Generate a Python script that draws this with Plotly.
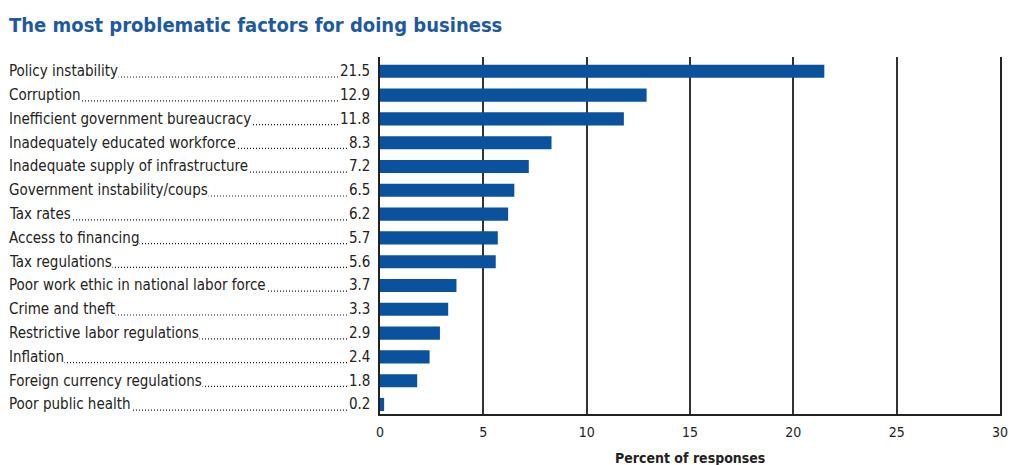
import plotly.graph_objects as go

categories = [
    "Policy instability", "Corruption", "Inefficient government bureaucracy",
    "Inadequately educated workforce", "Inadequate supply of infrastructure",
    "Government instability/coups", "Tax rates", "Access to financing",
    "Tax regulations", "Poor work ethic in national labor force",
    "Crime and theft", "Restrictive labor regulations", "Inflation",
    "Foreign currency regulations", "Poor public health",
]
values = [21.5, 12.9, 11.8, 8.3, 7.2, 6.5, 6.2, 5.7, 5.6, 3.7, 3.3, 2.9, 2.4, 1.8, 0.2]
x_ticks = [0, 5, 10, 15, 20, 25, 30]

FONT = "DejaVu Sans Condensed, Liberation Sans Narrow, sans-serif"
BAR = "#0a519e"
TXT = "#222222"

W, H = 1009, 465
ML, MR, MT, MB = 380, 9, 57, 51
pw = W - ML - MR

def px_to_paper(px):
    return (px - ML) / pw

fig = go.Figure(go.Bar(
    y=categories, x=values, orientation="h",
    marker=dict(color=BAR, line=dict(width=0)),
    width=0.55, hoverinfo="skip",
))

shapes = []
annotations = []
for i, (c, v) in enumerate(zip(categories, values)):
    shapes.append(dict(type="line", xref="paper", yref="y",
                       x0=px_to_paper(10), x1=px_to_paper(368), y0=i + 0.24, y1=i + 0.24,
                       line=dict(color="#1a1a1a", width=1.2, dash="1px,2px"),
                       layer="above"))
    annotations.append(dict(xref="paper", yref="y", x=px_to_paper(8), y=c,
                            text=c, showarrow=False, xanchor="left", yanchor="middle",
                            bgcolor="white", borderpad=0,
                            font=dict(family=FONT, size=15, color=TXT)))
    annotations.append(dict(xref="paper", yref="y", x=px_to_paper(371), y=c,
                            text=f"{v:.1f}", showarrow=False, xanchor="right", yanchor="middle",
                            bgcolor="white", borderpad=0,
                            font=dict(family=FONT, size=15, color=TXT)))

annotations.append(dict(xref="paper", yref="paper", x=0.5, y=0, yshift=-44,
                        text="<b>Percent of responses</b>", showarrow=False,
                        xanchor="center", yanchor="middle",
                        font=dict(family=FONT, size=14, color=TXT)))
annotations.append(dict(xref="paper", yref="paper", x=px_to_paper(7), y=1, yshift=32,
                        text="<b>The most problematic factors for doing business</b>",
                        showarrow=False, xanchor="left", yanchor="middle",
                        font=dict(family=FONT, size=20, color="#1d5aa2")))

fig.update_layout(
    width=W, height=H,
    margin=dict(l=ML, r=MR, t=MT, b=MB, pad=0, autoexpand=False),
    plot_bgcolor="white", paper_bgcolor="white",
    showlegend=False,
    shapes=shapes, annotations=annotations,
    xaxis=dict(range=[0, 30], tickvals=x_ticks, ticktext=[str(t) for t in x_ticks],
               showgrid=True, gridcolor="#333333", gridwidth=1.5,
               showline=True, linecolor="#222222", linewidth=2,
               ticks="", zeroline=False, ticklabeloverflow="allow", automargin=False,
               tickfont=dict(family=FONT, size=14, color=TXT), ticklabelstandoff=4),
    yaxis=dict(categoryorder="array", categoryarray=categories,
               range=[14.4, -0.6], showticklabels=False, showgrid=False,
               showline=True, mirror=True, linecolor="#222222", linewidth=2, ticks="",
               zeroline=False, automargin=False),
)

fig.write_html("out.html")
